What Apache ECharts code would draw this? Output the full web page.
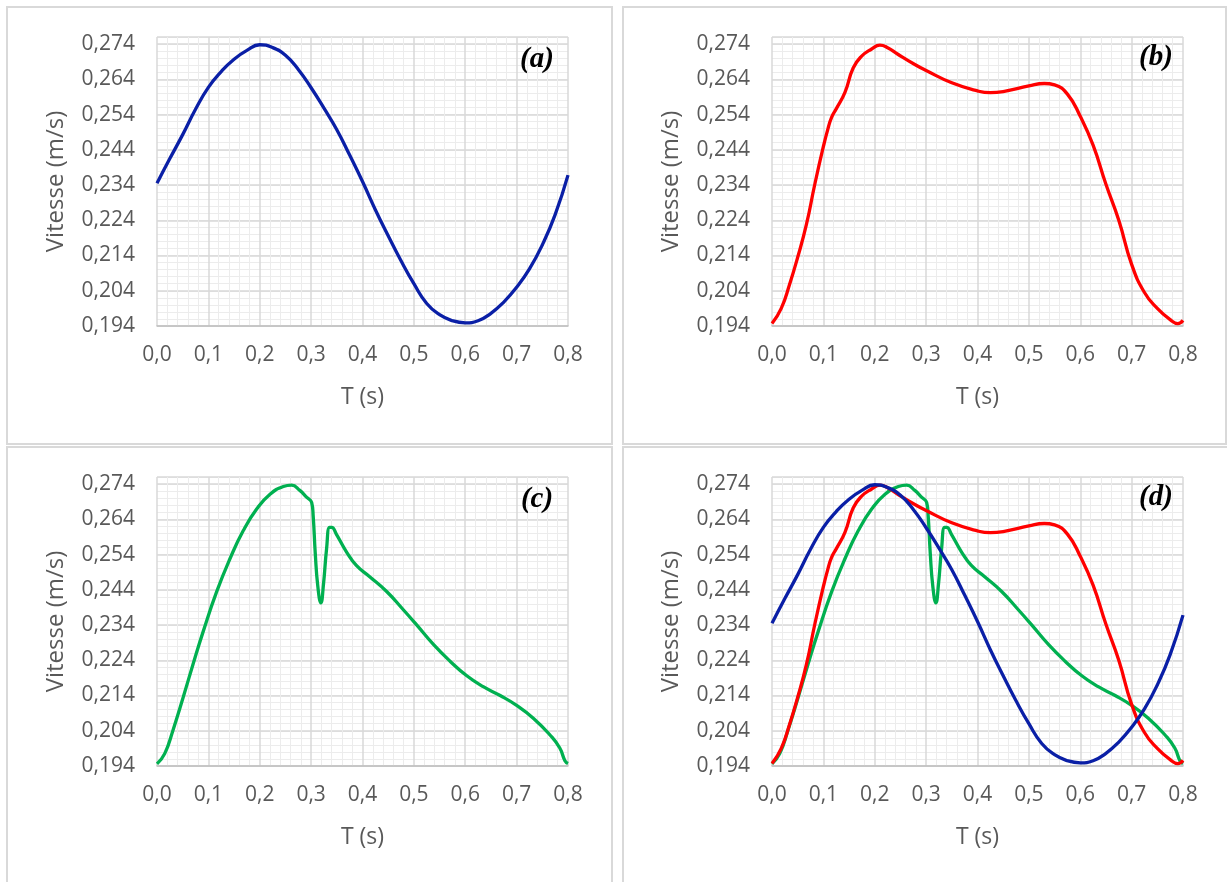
<!DOCTYPE html>
<html>
<head>
<meta charset="utf-8">
<script src="https://cdn.jsdelivr.net/npm/echarts@6/dist/echarts.min.js"></script>
<style>
html,body{margin:0;padding:0;background:#fff;}
#chart{width:1227px;height:882px;}
</style>
</head>
<body>
<div id="chart"></div>
<script>
// ---- Data ----
const xTicks = [0, 0.1, 0.2, 0.3, 0.4, 0.5, 0.6, 0.7, 0.8];
const yTicks = [0.194, 0.204, 0.214, 0.224, 0.234, 0.244, 0.254, 0.264, 0.274];

// (a) blue
const timeA = [0, 0.025, 0.05, 0.075, 0.1, 0.125, 0.15, 0.175, 0.2, 0.225, 0.25, 0.275, 0.3, 0.325, 0.35, 0.375, 0.4, 0.425, 0.45, 0.475, 0.5, 0.525, 0.55, 0.575, 0.6, 0.625, 0.65, 0.675, 0.7, 0.725, 0.75, 0.775, 0.8];
const speedA = [0.2345, 0.2415, 0.2483, 0.2555, 0.2617, 0.2662, 0.2697, 0.2722, 0.2738, 0.2730, 0.2708, 0.2668, 0.2616, 0.2558, 0.2497, 0.2425, 0.2350, 0.2270, 0.2196, 0.2125, 0.2060, 0.2004, 0.1972, 0.1955, 0.1949, 0.1955, 0.1976, 0.2008, 0.2050, 0.2102, 0.2170, 0.2256, 0.2368];

// (b) red
const timeB = [0, 0.018, 0.034, 0.05, 0.067, 0.083, 0.099, 0.109, 0.116, 0.125, 0.142, 0.158, 0.174, 0.194, 0.21, 0.226, 0.245, 0.278, 0.3, 0.35, 0.4, 0.425, 0.45, 0.5, 0.53, 0.55, 0.575, 0.6, 0.625, 0.65, 0.675, 0.7, 0.725, 0.75, 0.775, 0.79, 0.8];
const speedB = [0.1947, 0.1990, 0.2057, 0.2135, 0.2228, 0.2340, 0.2443, 0.2500, 0.2532, 0.2556, 0.2603, 0.2672, 0.2705, 0.2726, 0.2737, 0.2729, 0.2711, 0.2682, 0.2665, 0.2630, 0.2607, 0.2602, 0.2605, 0.2621, 0.2628, 0.2624, 0.2598, 0.2535, 0.2453, 0.2342, 0.2240, 0.2115, 0.2035, 0.1990, 0.1958, 0.1947, 0.1956];

// (c) green
const timeC = [0, 0.015, 0.031, 0.051, 0.07, 0.09, 0.116, 0.142, 0.168, 0.194, 0.22, 0.246, 0.262, 0.278, 0.291, 0.301, 0.304, 0.308, 0.313, 0.319, 0.324, 0.330, 0.336, 0.340, 0.349, 0.369, 0.388, 0.414, 0.447, 0.479, 0.505, 0.538, 0.570, 0.603, 0.635, 0.668, 0.700, 0.733, 0.765, 0.784, 0.794, 0.800];
const speedC = [0.1946, 0.1975, 0.2041, 0.2135, 0.2228, 0.2322, 0.2434, 0.2528, 0.2608, 0.2669, 0.2711, 0.2733, 0.2737, 0.2722, 0.2703, 0.2688, 0.2650, 0.2545, 0.2450, 0.2403, 0.2455, 0.2555, 0.2617, 0.2617, 0.2598, 0.2547, 0.2509, 0.2477, 0.2435, 0.2384, 0.2341, 0.2285, 0.2238, 0.2196, 0.2165, 0.2140, 0.2112, 0.2075, 0.2028, 0.1991, 0.1955, 0.1947];

const panelLabels = ['(a)', '(b)', '(c)', '(d)'];
const xName = 'T (s)';
const yName = 'Vitesse (m/s)';
const colors = { a: '#0a1fa6', b: '#ff0000', c: '#00b050' };

// ---- Build ----
const pair = (t, v) => t.map((x, i) => [x, v[i]]);
const dataA = pair(timeA, speedA), dataB = pair(timeB, speedB), dataC = pair(timeC, speedC);

const grids = [
  { left: 157, top: 37, width: 411, height: 289 },
  { left: 772, top: 37, width: 411, height: 289 },
  { left: 157, top: 477, width: 411, height: 289 },
  { left: 772, top: 477, width: 411, height: 289 }
];
const font = 'Open Sans';
const labelColor = '#595959';
const yMin = yTicks[0], yMax = 0.276, xMin = xTicks[0], xMax = xTicks[xTicks.length - 1];

const xAxes = [], yAxes = [];
grids.forEach((g, i) => {
  xAxes.push({
    type: 'value', gridIndex: i, min: xMin, max: xMax, interval: 0.1,
    name: xName, nameLocation: 'middle', nameGap: 60,
    nameTextStyle: { fontFamily: font, fontSize: 23, color: labelColor },
    axisLine: { show: true, lineStyle: { color: '#bfbfbf', width: 1.5 } },
    axisTick: { show: false },
    axisLabel: { fontFamily: font, fontSize: 21, color: labelColor, margin: 19,
      formatter: v => v.toFixed(1).replace('.', ',') },
    splitLine: { show: true, lineStyle: { color: '#d9d9d9', width: 1.5 } },
    minorTick: { show: false, splitNumber: 5 },
    minorSplitLine: { show: true, lineStyle: { color: '#ececec', width: 1 } },
    z: 1
  });
  // minor horizontal grid
  yAxes.push({
    type: 'value', gridIndex: i, min: yMin, max: yMax, interval: 0.002, position: 'left',
    axisLine: { show: false }, axisTick: { show: false }, axisLabel: { show: false },
    splitLine: { show: true, lineStyle: { color: '#ececec', width: 1 } }, z: 0
  });
  // major axis
  yAxes.push({
    type: 'value', gridIndex: i, min: yMin, max: yMax, interval: 0.01, position: 'left',
    name: yName, nameLocation: 'middle', nameGap: 89,
    nameTextStyle: { fontFamily: font, fontSize: 24, color: labelColor },
    axisLine: { show: false }, axisTick: { show: false },
    axisLabel: { fontFamily: font, fontSize: 21, color: labelColor, margin: 22,
      showMaxLabel: false,
      formatter: v => (Math.abs(v - yMax) < 1e-6 ? '' : v.toFixed(3).replace('.', ',')) },
    splitLine: { show: true, lineStyle: { color: '#d9d9d9', width: 1.5 } }, z: 1
  });
});

function line(data, color, gi) {
  return { type: 'line', xAxisIndex: gi, yAxisIndex: gi * 2 + 1, data: data,
    showSymbol: false, symbol: 'none', smooth: 0.5,
    lineStyle: { color: color, width: 3.3 }, itemStyle: { color: color }, z: 3, silent: true };
}

const series = [
  line(dataA, colors.a, 0),
  line(dataB, colors.b, 1),
  line(dataC, colors.c, 2),
  line(dataC, colors.c, 3),
  line(dataB, colors.b, 3),
  line(dataA, colors.a, 3)
];

const boxes = [
  { x: 7, y: 7, w: 605, h: 437 },
  { x: 623, y: 7, w: 603, h: 437 },
  { x: 7, y: 447, w: 605, h: 445 },
  { x: 623, y: 447, w: 615, h: 445 }
];
const labelPos = [[537, 60], [1156, 58], [537, 500], [1156, 498]];
const graphic = [];
boxes.forEach(b => graphic.push({ type: 'rect', shape: { x: b.x, y: b.y, width: b.w, height: b.h },
  style: { fill: 'none', stroke: '#d9d9d9', lineWidth: 2 }, silent: true, z: -1 }));
panelLabels.forEach((t, i) => graphic.push({ type: 'text', x: labelPos[i][0], y: labelPos[i][1],
  style: { text: t, font: 'italic bold 29px "Liberation Serif"', fill: '#000', align: 'center', verticalAlign: 'middle' },
  z: 10 }));

const chart = echarts.init(document.getElementById('chart'), null, { renderer: 'canvas' });
chart.setOption({
  animation: false,
  backgroundColor: '#fff',
  grid: grids,
  xAxis: xAxes,
  yAxis: yAxes,
  series: series,
  graphic: graphic
});
</script>
</body>
</html>
